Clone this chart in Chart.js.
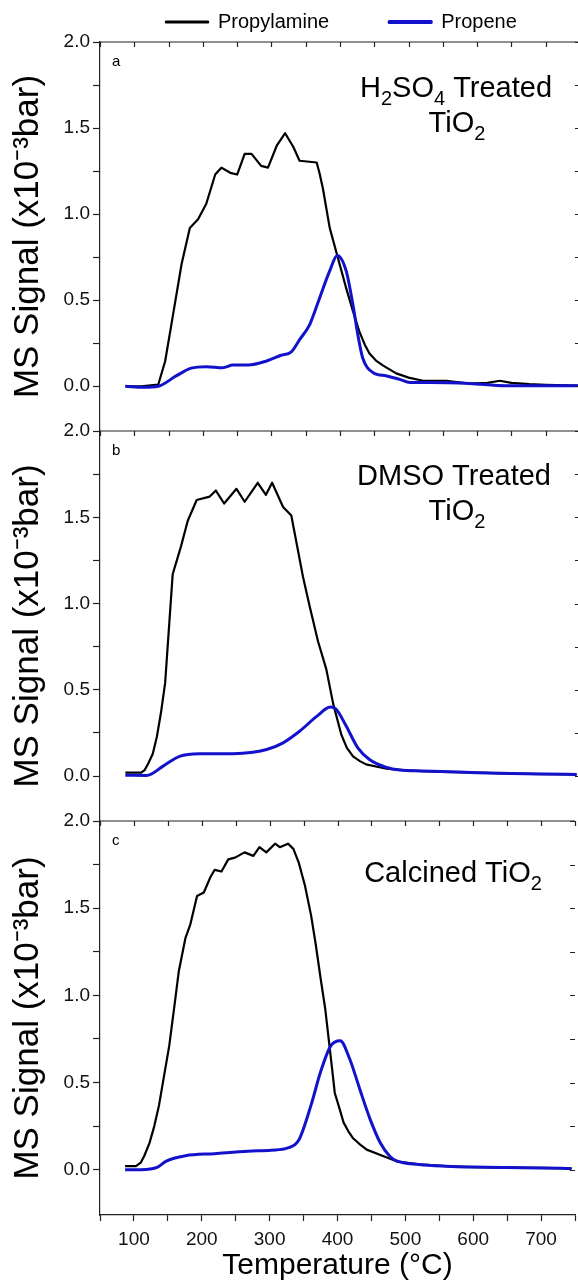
<!DOCTYPE html>
<html>
<head>
<meta charset="utf-8">
<title>Propylamine TPD</title>
<script src="https://cdn.jsdelivr.net/npm/chart.js@4.4.1/dist/chart.umd.min.js"></script>
<style>
  html, body { margin: 0; padding: 0; background: #fff; overflow: hidden; }
  #figure { position: relative; width: 578px; height: 1284px; overflow: hidden; background: #fff; }
  #figure canvas { position: absolute; left: 0; }
</style>
</head>
<body>
<div id="figure">
  <canvas id="panelA" width="582" height="447" style="top:0px"></canvas>
  <canvas id="panelB" width="582" height="422" style="top:415px"></canvas>
  <canvas id="panelC" width="582" height="479" style="top:805px"></canvas>
</div>
<script>
// ---- data (temperature in °C, signal in 1e-3 bar) ----
const amineTempA   = [87, 110, 135, 145, 155, 169, 181, 193, 205, 218, 227, 240, 250, 261, 271, 285, 295, 308, 320, 332, 341, 366, 370, 375, 385, 396, 409, 419, 428, 436, 443, 453, 463, 482, 500, 521, 555, 589, 615, 633, 650, 676, 700, 747];
const amineSignalA = [0.00, 0.00, 0.01, 0.145, 0.38, 0.71, 0.92, 0.97, 1.06, 1.23, 1.27, 1.24, 1.23, 1.35, 1.35, 1.28, 1.27, 1.40, 1.47, 1.39, 1.31, 1.30, 1.24, 1.15, 0.92, 0.76, 0.57, 0.435, 0.32, 0.243, 0.19, 0.147, 0.12, 0.075, 0.05, 0.032, 0.032, 0.016, 0.02, 0.032, 0.02, 0.012, 0.008, 0.004];
const propeneTempA   = [87, 113, 135, 161, 183, 205, 229, 244, 266, 293, 314, 329, 341, 356, 370, 385, 396, 409, 419, 426, 433, 448, 468, 487, 502, 531, 589, 642, 700, 747];
const propeneSignalA = [0.0, -0.006, 0.0, 0.06, 0.105, 0.114, 0.108, 0.124, 0.124, 0.147, 0.18, 0.20, 0.27, 0.36, 0.51, 0.67, 0.76, 0.67, 0.47, 0.30, 0.166, 0.08, 0.06, 0.04, 0.022, 0.022, 0.016, 0.003, 0.003, 0.003];

const amineTempB   = [87, 110, 115, 120, 127, 133, 139, 145, 156, 168, 178, 191, 210, 219, 231, 249, 261, 280, 292, 301, 317, 329, 346, 356, 368, 380, 390, 402, 410, 419, 429, 438, 468, 500, 550, 600, 650, 700, 745];
const amineSignalB = [0.02, 0.02, 0.035, 0.07, 0.13, 0.23, 0.37, 0.54, 1.17, 1.33, 1.48, 1.60, 1.62, 1.655, 1.58, 1.665, 1.59, 1.70, 1.63, 1.70, 1.56, 1.51, 1.155, 0.98, 0.78, 0.62, 0.42, 0.24, 0.164, 0.115, 0.087, 0.068, 0.043, 0.032, 0.025, 0.02, 0.015, 0.012, 0.01];
const propeneTempB   = [87, 118, 142, 166, 195, 219, 244, 273, 293, 317, 341, 366, 386, 395, 409, 426, 443, 468, 487, 520, 560, 600, 650, 700, 745];
const propeneSignalB = [0.005, 0.004, 0.058, 0.115, 0.13, 0.13, 0.13, 0.138, 0.154, 0.193, 0.26, 0.346, 0.40, 0.385, 0.29, 0.164, 0.096, 0.05, 0.035, 0.03, 0.025, 0.02, 0.015, 0.012, 0.01];

const amineTempC   = [87, 103, 110, 115, 123, 130, 137, 152, 159, 166, 176, 183, 193, 203, 213, 219, 229, 239, 249, 263, 276, 285, 295, 308, 315, 327, 335, 343, 352, 361, 368, 375, 382, 387, 392, 396, 403, 409, 416, 423, 433, 443, 468, 487, 520, 560, 600, 650, 700, 745];
const amineSignalC = [0.02, 0.02, 0.04, 0.077, 0.154, 0.25, 0.37, 0.71, 0.92, 1.135, 1.33, 1.405, 1.57, 1.59, 1.68, 1.72, 1.71, 1.78, 1.79, 1.82, 1.80, 1.85, 1.82, 1.87, 1.85, 1.87, 1.84, 1.76, 1.63, 1.46, 1.29, 1.10, 0.92, 0.75, 0.58, 0.44, 0.35, 0.27, 0.22, 0.18, 0.145, 0.115, 0.077, 0.048, 0.03, 0.02, 0.015, 0.012, 0.01, 0.008];
const propeneTempC   = [87, 110, 135, 147, 176, 219, 268, 302, 327, 343, 361, 375, 390, 404, 418, 433, 448, 463, 477, 487, 520, 560, 600, 650, 700, 745];
const propeneSignalC = [0.0, 0.0, 0.015, 0.048, 0.08, 0.092, 0.106, 0.112, 0.125, 0.17, 0.37, 0.56, 0.71, 0.74, 0.635, 0.46, 0.29, 0.154, 0.077, 0.05, 0.03, 0.02, 0.015, 0.012, 0.01, 0.006];

const xTickValues = [50, 100, 150, 200, 250, 300, 350, 400, 450, 500, 550, 600, 650, 700, 750];
const xTickLabels = ['', '100', '', '200', '', '300', '', '400', '', '500', '', '600', '', '700', ''];
const yTickValues = [0, 0.25, 0.5, 0.75, 1.0, 1.25, 1.5, 1.75, 2.0];
const yTickLabels = ['0.0', '', '0.5', '', '1.0', '', '1.5', '', '2.0'];

// ---- styling ----
const FONT = "'Liberation Sans', Arial, Helvetica, sans-serif";
const AXIS = '#222';
const BLUE = '#1212cc';
Chart.defaults.font.family = FONT;
Chart.defaults.color = '#111';

const points = (temps, signal) => temps.map((t, i) => ({ x: t, y: signal[i] }));

// top border with inward ticks, plus inward ticks of the (cropped) right axis
const framePlugin = {
  id: 'frame',
  afterDraw(chart) {
    const { ctx, chartArea: { left, right, top }, scales: { x, y } } = chart;
    ctx.save();
    ctx.strokeStyle = AXIS;
    ctx.lineWidth = 1.2;
    ctx.beginPath();
    ctx.moveTo(left, top);
    ctx.lineTo(right, top);
    xTickValues.forEach(v => {
      const px = Math.round(x.getPixelForValue(v)) + 0.5;
      ctx.moveTo(px, top);
      ctx.lineTo(px, top + 5);
    });
    yTickValues.forEach(v => {
      const py = Math.round(y.getPixelForValue(v)) + 0.5;
      ctx.moveTo(right, py);
      ctx.lineTo(right - 5, py);
    });
    ctx.stroke();
    ctx.restore();
  }
};

// text with subscripts, centred on cx, baseline at y
function drawRich(ctx, parts, cx, y, size) {
  const subSize = Math.round(size * 0.7);
  const widths = parts.map(([t, sub]) => {
    ctx.font = `${sub ? subSize : size}px ${FONT}`;
    return ctx.measureText(t).width;
  });
  let x = cx - widths.reduce((a, b) => a + b, 0) / 2;
  parts.forEach(([t, sub], i) => {
    ctx.font = `${sub ? subSize : size}px ${FONT}`;
    ctx.fillText(t, x, sub ? y + 8 : y);
    x += widths[i];
  });
}

const panelTextPlugin = {
  id: 'panelText',
  afterDraw(chart, args, opts) {
    if (!opts.letter) return;
    const { ctx, chartArea: { left, top } } = chart;
    ctx.save();
    ctx.fillStyle = '#000';
    ctx.textAlign = 'left';
    ctx.textBaseline = 'alphabetic';
    ctx.font = `15px ${FONT}`;
    ctx.fillText(opts.letter, left + 12, top + 24);
    opts.lines.forEach(line => drawRich(ctx, line.parts, line.cx, top + line.dy, 29));
    ctx.restore();
  }
};

// moves the legend row so it sits where it does in the figure
const legendOffsetPlugin = {
  id: 'legendOffset',
  afterLayout(chart, args, opts) {
    if (chart.legend && opts.left != null) chart.legend.left = opts.left;
  }
};

function yAxis() {
  return {
    type: 'linear',
    min: -0.26,
    max: 2.0,
    afterBuildTicks: axis => { axis.ticks = yTickValues.map(v => ({ value: v })); },
    afterFit: axis => { axis.width = 100; },
    ticks: {
      callback: (v, i) => yTickLabels[i],
      font: { size: 19 },
      color: '#111',
      padding: 3
    },
    grid: { drawOnChartArea: false, tickLength: 7, color: AXIS, tickWidth: 1.2 },
    border: { color: AXIS, width: 1.2 },
    title: {
      display: true,
      text: 'MS Signal (x10⁻³bar)',
      font: { size: 35 },
      color: '#000',
      padding: { top: 7, bottom: 0 }
    }
  };
}

function xAxis(showAxis) {
  const axis = {
    type: 'linear',
    min: 50,
    max: 750,
    display: showAxis,
    afterBuildTicks: a => { a.ticks = xTickValues.map(v => ({ value: v })); }
  };
  if (showAxis) {
    Object.assign(axis, {
      position: 'bottom',
      afterFit: a => { a.height = 69; },
      ticks: {
        callback: (v, i) => xTickLabels[i],
        autoSkip: false,
        maxRotation: 0,
        font: { size: 19 },
        color: '#111',
        padding: 7
      },
      grid: { drawOnChartArea: false, tickLength: 6, color: AXIS, tickWidth: 1.2 },
      border: { color: AXIS, width: 1.2 },
      title: {
        display: true,
        text: 'Temperature (°C)',
        font: { size: 30 },
        color: '#000',
        padding: { top: 0, bottom: 0 }
      }
    });
  }
  return axis;
}

function makePanel(canvasId, amine, propene, panel) {
  const ctx = document.getElementById(canvasId).getContext('2d');
  return new Chart(ctx, {
    type: 'line',
    data: {
      datasets: [
        {
          label: 'Propylamine',
          data: amine,
          borderColor: '#000',
          backgroundColor: '#000',
          borderWidth: 2.2,
          borderJoinStyle: 'round',
          pointRadius: 0,
          tension: 0,
          order: 1
        },
        {
          label: 'Propene',
          data: propene,
          borderColor: BLUE,
          backgroundColor: BLUE,
          borderWidth: 3,
          borderJoinStyle: 'round',
          pointRadius: 0,
          cubicInterpolationMode: 'monotone',
          order: 0
        }
      ]
    },
    options: {
      responsive: false,
      animation: false,
      layout: { padding: panel.padding },
      scales: { x: xAxis(panel.showX), y: yAxis() },
      plugins: {
        tooltip: { enabled: false },
        legend: {
          display: panel.legend,
          position: 'top',
          align: 'start',
          labels: {
            boxWidth: 42,
            boxHeight: 1,
            padding: 10,
            font: { size: 20 },
            color: '#000',
            sort: (a, b) => a.datasetIndex - b.datasetIndex,
            generateLabels: chart => {
              const items = Chart.defaults.plugins.legend.labels.generateLabels(chart);
              // the figure leaves a wide gap between the two entries
              items.forEach(item => { if (item.datasetIndex === 0) item.text += '\u00a0'.repeat(9); });
              return items;
            }
          }
        },
        legendOffset: { left: panel.legendLeft },
        panelText: { letter: panel.letter, lines: panel.lines }
      }
    },
    plugins: [framePlugin, panelTextPlugin, legendOffsetPlugin]
  });
}

makePanel('panelA', points(amineTempA, amineSignalA), points(propeneTempA, propeneSignalA), {
  showX: false,
  legend: true,
  legendLeft: 156,
  padding: { top: 2, bottom: 16, left: 0, right: 2 },
  letter: 'a',
  lines: [
    { cx: 456, dy: 55, parts: [['H'], ['2', true], ['SO'], ['4', true], [' Treated']] },
    { cx: 457, dy: 90, parts: [['TiO'], ['2', true]] }
  ]
});

makePanel('panelB', points(amineTempB, amineSignalB), points(propeneTempB, propeneSignalB), {
  showX: false,
  legend: false,
  padding: { top: 16, bottom: 16, left: 0, right: 2 },
  letter: 'b',
  lines: [
    { cx: 454, dy: 54, parts: [['DMSO Treated']] },
    { cx: 457, dy: 89, parts: [['TiO'], ['2', true]] }
  ]
});

makePanel('panelC', points(amineTempC, amineSignalC), points(propeneTempC, propeneSignalC), {
  showX: true,
  legend: false,
  padding: { top: 16, bottom: 0, left: 0, right: 2 },
  letter: 'c',
  lines: [
    { cx: 453, dy: 61, parts: [['Calcined TiO'], ['2', true]] }
  ]
});
</script>
</body>
</html>
